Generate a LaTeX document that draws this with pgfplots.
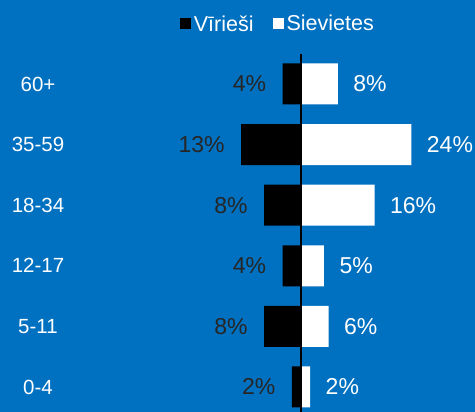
\documentclass[border=0pt]{standalone}
\usepackage{pgfplots}
\pgfplotsset{compat=1.18}
\usepackage{pgfplotstable}
\usepackage{fontspec}
\setmainfont{Liberation Sans}
\definecolor{bgblue}{RGB}{0,112,192}
\definecolor{dark}{RGB}{38,38,38}
\pgfplotstableread{
y m w
0 2 2
1 8 6
2 4 5
3 8 16
4 13 24
5 4 8
}\data
\begin{document}
\begin{tikzpicture}
\fill[bgblue] (0,0) rectangle (475pt,412pt);
\begin{axis}[
  at={(163pt,0pt)}, anchor=south west,
  scale only axis, width=276pt, height=358.3pt,
  xbar, bar shift=0pt, bar width=41pt,
  xmin=-30, xmax=30, ymin=-0.4125, ymax=5.5,
  enlargelimits=false, clip=false,
  axis lines=left, axis line style={draw=none},
  tick style={draw=none}, major tick length=0pt,
  xtick=\empty,
  ytick={0,...,5},
  yticklabels={0-4,5-11,12-17,18-34,35-59,60+},
  yticklabel style={anchor=center, xshift=-125pt, text=white, font=\fontsize{20.5}{24}\selectfont},
  /pgf/number format/assume math mode=true,
  nodes near coords={\pgfmathprintnumber{\pgfplotspointmeta}\%},
  legend style={at={(0.418,1.083)}, anchor=center, draw=none, fill=none,
    inner sep=0pt, text=white, font=\fontsize{21.5}{24}\selectfont,
    legend columns=2, nodes={inner sep=2.5pt},
    /tikz/every even column/.append style={column sep=17pt}},
]
\addplot[fill=black, draw=none,
  legend image code/.code={\fill[black] (0pt,-5.5pt) rectangle (11pt,5.5pt);},
  point meta=explicit,
  nodes near coords style={anchor=east, xshift=-13pt, text=dark, font=\fontsize{23}{26}\selectfont}]
  table[x expr=-\thisrow{m}, y=y, meta=m] {\data};
\addlegendentry{Vīrieši}
\addplot[fill=white, draw=none,
  legend image code/.code={\fill[white] (0pt,-5.5pt) rectangle (11pt,5.5pt);},
  point meta=explicit,
  nodes near coords style={anchor=west, xshift=12pt, text=white, font=\fontsize{23}{26}\selectfont}]
  table[x=w, y=y, meta=w] {\data};
\addlegendentry{Sievietes}
\draw[black, line width=1.2pt] (axis cs:0,-0.5) -- (axis cs:0,5.5);
\end{axis}
\pgfresetboundingbox
\path (0,0) rectangle (475pt,412pt);
\end{tikzpicture}
\end{document}
